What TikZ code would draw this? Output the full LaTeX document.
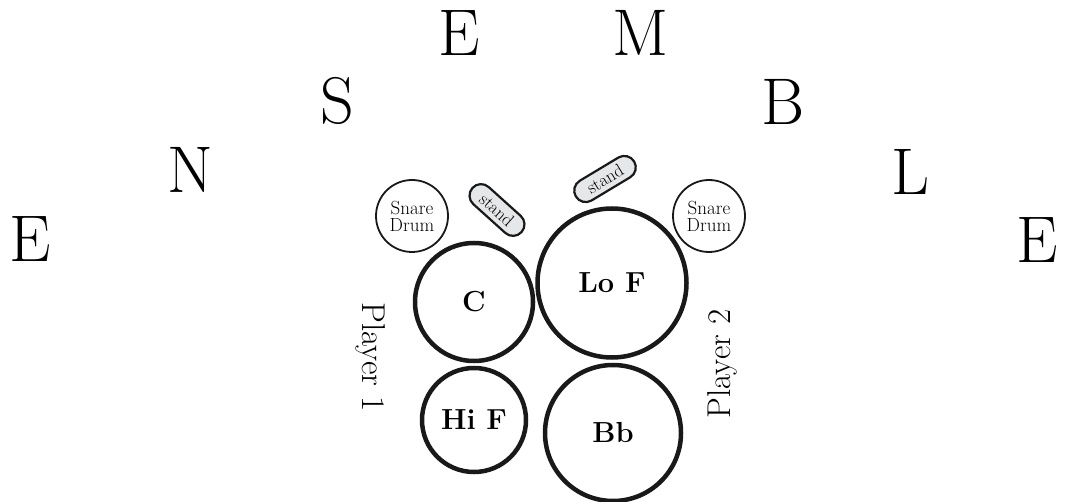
\documentclass[tikz,border=0pt]{standalone}
\usetikzlibrary{shapes.misc}
\definecolor{standgray}{RGB}{230,231,232}
\tikzset{
  bigletter/.style={font=\fontsize{66}{66}\selectfont, inner sep=0pt},
  drum/.style={circle, draw=black!90, line width=4.5pt, inner sep=0pt,
    font=\fontsize{29}{29}\selectfont\bfseries},
  snare/.style={circle, draw=black!90, line width=1.8pt, minimum size=72pt,
    inner sep=0pt, align=center, font=\fontsize{19}{17}\selectfont},
  standbox/.style={rounded rectangle, draw=black!90, fill=standgray, line width=2.2pt,
    minimum height=23pt, inner xsep=2pt, font=\fontsize{18}{18}\selectfont},
  player/.style={font=\fontsize{33}{33}\selectfont}
}
\begin{document}
\begin{tikzpicture}[x=1pt, y=-1pt]
    \useasboundingbox (0,0) rectangle (1068,502);

    % ENSEMBLE arc
    \node[bigletter] (e1) at (30,239) {E};
    \node[bigletter] (n)  at (190,170) {N};
    \node[bigletter] (s)  at (337,101) {S};
    \node[bigletter] (e2) at (459,33) {E};
    \node[bigletter] (m)  at (641,33) {M};
    \node[bigletter] (b)  at (783,102) {B};
    \node[bigletter] (l)  at (910,172) {L};
    \node[bigletter] (e3) at (1037,240) {E};

    % snare drums and stands
    \node[snare] (snareA) at (412,216) {Snare\\Drum};
    \node[snare] (snareB) at (709,216) {Snare\\Drum};
    \node[standbox, minimum width=70pt, rotate=-42] (standA) at (497,210) {stand};
    \node[standbox, minimum width=72pt, rotate=31] (standB) at (605,179) {stand};

    % timpani
    \node[drum, minimum size=118pt] (c)   at (474,302) {C};
    \node[drum, minimum size=149pt] (lof) at (612,283) {Lo F};
    \node[drum, minimum size=104pt] (hif) at (474,420) {Hi F};
    \node[drum, minimum size=136pt] (bb)  at (613,433) {Bb};

    % players
    \node[player, rotate=-90] (p1) at (371,357) {Player 1};
    \node[player, rotate=90]  (p2) at (722,364) {Player 2};
\end{tikzpicture}
\end{document}
